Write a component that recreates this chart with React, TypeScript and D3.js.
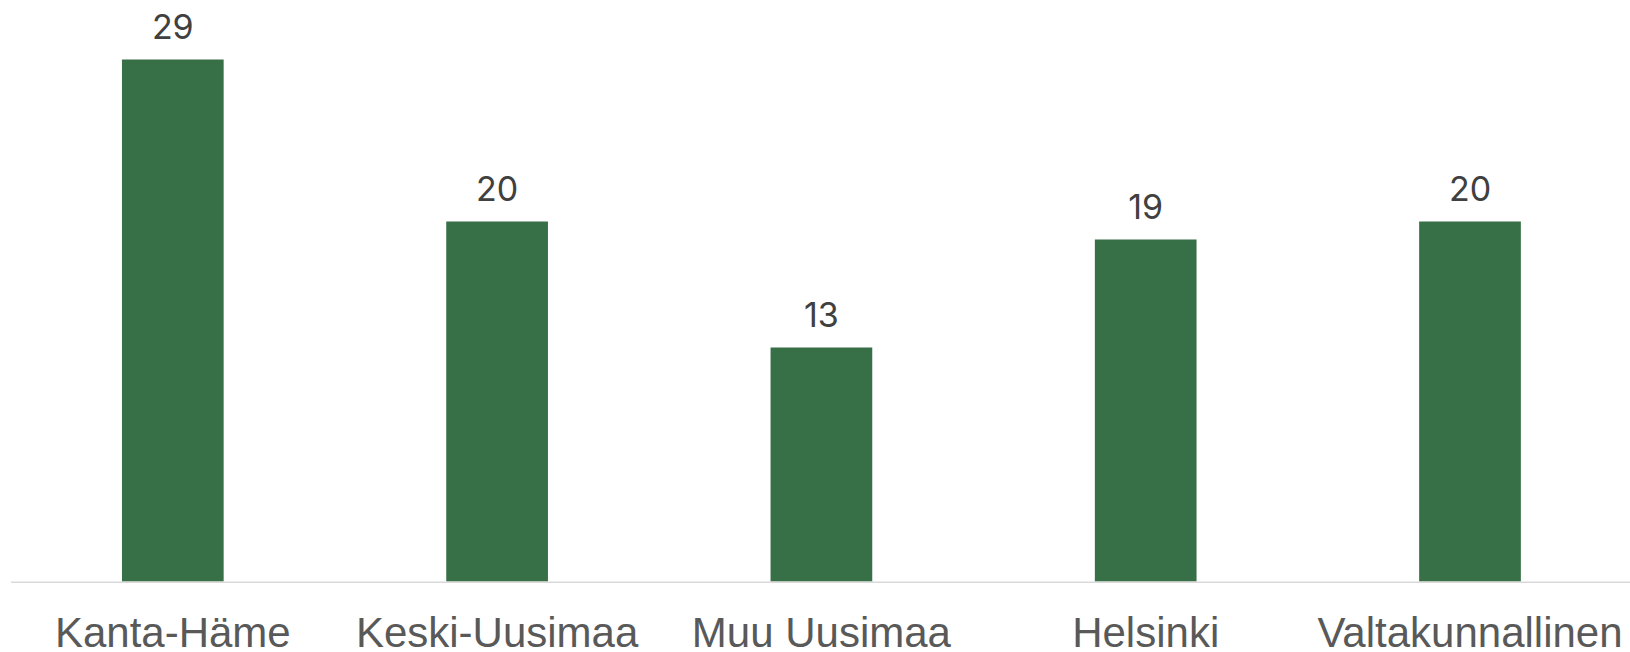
import React from "react";
import * as d3 from "d3";

const categories = ["Kanta-Häme", "Keski-Uusimaa", "Muu Uusimaa", "Helsinki", "Valtakunnallinen"];
const values = [29, 20, 13, 19, 20];
const valueLabels = ["29", "20", "13", "19", "20"];

const W = 1630;
const H = 652;

export default function App() {
  const x = d3
    .scaleBand<string>()
    .domain(categories)
    .range([10.65, 1632.15])
    .paddingInner(0.6864)
    .paddingOuter(0.3432);
  const y = d3.scaleLinear().domain([0, 30]).range([581.5, 41.5]);
  const baseline = y(0);

  return (
    <svg
      width={W}
      height={H}
      style={{ position: "absolute", left: 0, top: 0, background: "#ffffff" }}
    >
      {categories.map((c, i) => {
        const bx = x(c)!;
        const bw = x.bandwidth();
        const top = y(values[i]);
        return (
          <g key={c}>
            <rect x={bx} y={top} width={bw} height={baseline - top} fill="#376f47" />
            <text
              x={bx + bw / 2}
              y={top - 21}
              textAnchor="middle"
              fontFamily="Inter, 'Noto Sans', sans-serif"
              fontSize={34}
              fill="#404040"
            >
              {valueLabels[i]}
            </text>
            <text
              x={bx + bw / 2}
              y={647}
              textAnchor="middle"
              fontFamily="'Liberation Sans', Arial, sans-serif"
              fontSize={42}
              fill="#595959"
            >
              {c}
            </text>
          </g>
        );
      })}
      <line x1={11} x2={1630} y1={baseline + 0.75} y2={baseline + 0.75} stroke="#d9d9d9" strokeWidth={1.5} />
    </svg>
  );
}
